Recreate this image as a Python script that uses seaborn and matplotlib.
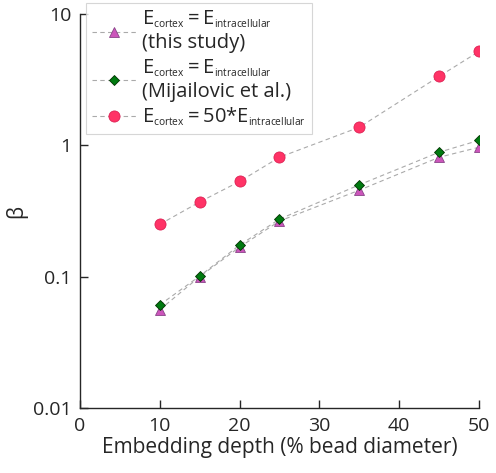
import numpy as np
import pandas as pd
import seaborn as sns
import matplotlib.pyplot as plt
import matplotlib._mathtext as mtext

depth = [10, 15, 20, 25, 35, 45, 50]
beta_this_study = [0.056, 0.100, 0.168, 0.265, 0.455, 0.81, 0.965]
beta_mijailovic = [0.061, 0.101, 0.174, 0.274, 0.50, 0.885, 1.09]
beta_stiff_cortex = [0.25, 0.37, 0.53, 0.81, 1.37, 3.34, 5.17]

labels = [
    r'$\mathregular{E_{cortex} = E_{intracellular}}$' + '\n(this study)',
    r'$\mathregular{E_{cortex} = E_{intracellular}}$' + '\n(Mijailovic et al.)',
    r'$\mathregular{E_{cortex} = 50{*}E_{intracellular}}$',
]

# smaller subscripts, like the original figure
mtext.SHRINK_FACTOR = 0.5

sns.set_style('ticks')
plt.rcParams['font.family'] = ['Open Sans', 'DejaVu Sans']
plt.rcParams['mathtext.fontset'] = 'custom'
plt.rcParams['mathtext.rm'] = 'Open Sans'

fig, ax = plt.subplots(figsize=(4.96, 4.73), dpi=100)
fig.subplots_adjust(left=0.161, right=0.966, top=0.971, bottom=0.137)

series = [
    (beta_this_study, '^', '#cc55bb', '#884488', 7),
    (beta_mijailovic, 'D', '#007a10', '#003300', 5.5),
    (beta_stiff_cortex, 'o', '#ff3366', '#dd2255', 8),
]
for (vals, mk, fc, ec, ms), lab in zip(series, labels):
    sns.lineplot(x=depth, y=vals, ax=ax, marker=mk, markersize=ms,
                 markerfacecolor=fc, markeredgecolor=ec, markeredgewidth=0.6,
                 color='#aaaaaa', linestyle=(0, (4, 3)), linewidth=0.8, label=lab)

ax.set_yscale('log')
ax.set_xlim(0, 50)
ax.set_ylim(0.01, 10)
ax.set_xticks([0, 10, 20, 30, 40, 50])
ax.set_yticks([0.01, 0.1, 1, 10])
ax.set_yticklabels(['0.01', '0.1', '1', '10'])
ax.minorticks_off()
ax.tick_params(direction='in', length=6, width=1, labelsize=14, pad=6)
sns.despine(ax=ax)
for s in ['left', 'bottom']:
    ax.spines[s].set_linewidth(1)
ax.set_xlabel('Embedding depth (% bead diameter)', fontsize=15, labelpad=2)
ax.set_ylabel('β', fontsize=15, labelpad=4)

leg = ax.legend(loc='upper left', bbox_to_anchor=(-0.01, 1.053), fontsize=14.5,
                frameon=True, fancybox=False, edgecolor='#cccccc',
                handlelength=2.2, handletextpad=0.3, labelspacing=0.2,
                borderpad=0.3)
leg.get_frame().set_linewidth(0.8)

fig.savefig('out.png', dpi=100)
